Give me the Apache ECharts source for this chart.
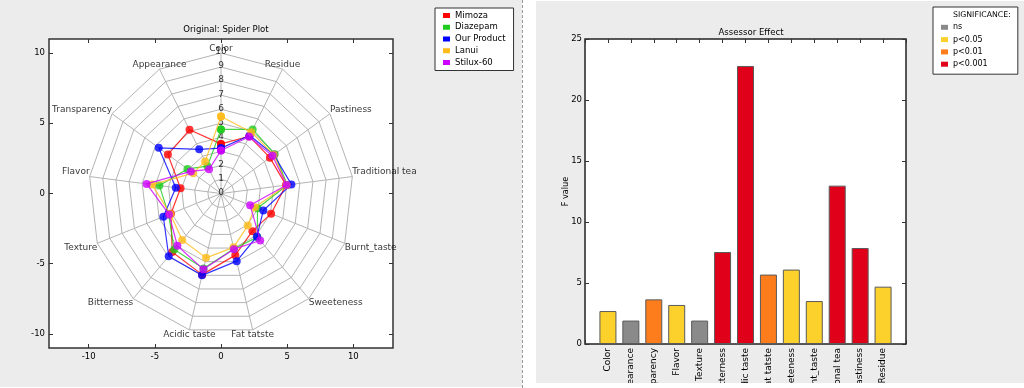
<!DOCTYPE html>
<html><head><meta charset="utf-8">
<script src="https://cdn.jsdelivr.net/npm/echarts@6/dist/echarts.min.js"></script>
<style>
html,body{margin:0;padding:0;background:#fff;width:1024px;height:388px;overflow:hidden;}
#left{position:absolute;left:0;top:0;width:522px;height:387px;background:#ececec;}
#right{position:absolute;left:536px;top:1px;width:488px;height:382px;background:#ececec;}
#sep{position:absolute;left:522px;top:0;width:0;height:388px;border-left:1px dashed #9a9a9a;}
</style></head><body>
<div id="left"></div><div id="sep"></div><div id="right"></div>
<script>
// ---------- data ----------
const categories = ['Color','Appearance','Transparency','Flavor','Texture','Bitterness','Acidic taste','Fat tatste','Sweeteness','Burnt_taste','Traditional tea','Pastiness','Residue'];
const seriesNames = ['Mimoza','Diazepam','Our Product','Lanui','Stilux-60'];
const mimoza     = [3.53, 5.12, 4.88, 3.08, 4.05, 5.56, 5.95, 4.52, 3.58, 4.05, 4.95, 4.49, 4.60];
const diazepam   = [4.56, 2.20, 3.08, 4.69, 4.23, 5.33, 5.50, 4.05, 4.15, 2.95, 5.05, 4.93, 5.15];
const ourProduct = [3.23, 3.55, 5.72, 3.44, 4.66, 5.96, 6.00, 4.96, 4.09, 3.42, 5.36, 4.85, 4.66];
const lanui      = [5.48, 2.58, 2.55, 5.25, 4.10, 4.42, 4.72, 3.95, 3.05, 2.74, 5.00, 4.85, 4.93];
const stilux60   = [3.06, 1.94, 2.77, 5.66, 4.20, 4.97, 5.56, 4.08, 4.47, 2.35, 5.00, 4.72, 4.57];
const ringValues = [0,1,2,3,4,5,6,7,8,9,10];
const xTickValues = [-10,-5,0,5,10];
const yTickValues = [-10,-5,0,5,10];
const spiderTitle = 'Original: Spider Plot';

const fValues = [2.70, 1.92, 3.66, 3.20, 1.92, 7.54, 22.79, 5.69, 6.10, 3.52, 12.98, 7.87, 4.70];
const significance = ['p<0.05','ns','p<0.01','p<0.05','ns','p<0.001','p<0.001','p<0.01','p<0.05','p<0.05','p<0.001','p<0.001','p<0.05'];
const sigLevels = ['ns','p<0.05','p<0.01','p<0.001'];
const sigHeader = 'SIGNIFICANCE:';
const barTitle = 'Assessor Effect';
const barYName = 'F value';

// ---------- styles ----------
const FONT = '"DejaVu Sans", sans-serif';
const NARROW = '"Liberation Sans Narrow", "DejaVu Sans Condensed", "DejaVu Sans", sans-serif';
const seriesColors = ['#ff0000','#1ccc1c','#0000ff','#ffbb1a','#cc00ff'];
const sigColors = {'ns':'#8a8a8a','p<0.05':'#fdd12b','p<0.01':'#fd7d1c','p<0.001':'#e0001a'};
const webColor = '#b4b4b4';
const txt = '#000';

// ---------- spider chart ----------
const N = categories.length;
const ang = i => Math.PI / 2 + i * 2 * Math.PI / N;
const toXY = (r, i) => [r * Math.cos(ang(i)), r * Math.sin(ang(i))];
const rMax = ringValues[ringValues.length - 1];
const plainLabel = {color:txt, fontSize:9, fontFamily:FONT, textBorderWidth:0, textBorderColor:'transparent', textShadowBlur:0};

const leftSeries = [];
ringValues.filter(r => r > 0).forEach(r => {
  const d = categories.map((_, i) => toXY(r, i));
  d.push(d[0]);
  leftSeries.push({type:'line', data:d, symbol:'none', silent:true, z:1, animation:false,
    lineStyle:{color:webColor, width:1}});
});
categories.forEach((_, i) => {
  leftSeries.push({type:'line', data:[[0,0], toXY(rMax, i)], symbol:'none', silent:true, z:1, animation:false,
    lineStyle:{color:webColor, width:1}});
});
leftSeries.push({type:'scatter', symbolSize:0, silent:true, z:2, animation:false, itemStyle:{color:'#000'},
  data: ringValues.map(r => ({value: toXY(r, 0), name: String(r)})),
  label:Object.assign({show:true, position:[0,0], align:'center', verticalAlign:'middle', offset:[0,-1],
    formatter: p => p.name}, plainLabel)});
leftSeries.push({type:'scatter', symbolSize:0, silent:true, z:2, animation:false, itemStyle:{color:'#000'},
  data: categories.map((c, i) => {
    const cs = Math.cos(ang(i)), sn = Math.sin(ang(i));
    return {value: toXY(rMax, i), name: c,
      label:Object.assign({show:true,
             align: Math.abs(cs) < 0.5 ? 'center' : (cs > 0 ? 'left' : 'right'),
             verticalAlign: sn >= -0.01 ? 'bottom' : 'top'}, plainLabel)};
  }),
  label:Object.assign({show:true, position:[0,0], formatter: p => p.name}, plainLabel)});
const allValues = [mimoza, diazepam, ourProduct, lanui, stilux60];
allValues.forEach((vals, k) => {
  const d = vals.map((v, i) => toXY(v, i));
  d.push(d[0]);
  leftSeries.push({name: seriesNames[k], type:'line', data:d, z:3 + k, animation:false,
    symbol:'circle', symbolSize:8,
    itemStyle:{color: seriesColors[k], opacity:0.8},
    lineStyle:{color: seriesColors[k], width:1.2, opacity:0.8}});
});

const tickStyle = {color:'#333', width:1};
const noLine = {show:false, onZero:false};
const leftChart = echarts.init(document.getElementById('left'));
leftChart.setOption({
  animation:false,
  title:{text: spiderTitle, left:221, top:20, textAlign:'center',
    textStyle:{fontSize:9.5, fontWeight:'normal', color:txt, fontFamily:NARROW}},
  legend:{data: seriesNames, orient:'vertical', left:435, top:8, icon:'rect', itemWidth:7, itemHeight:5,
    itemGap:1.75, selectedMode:false, backgroundColor:'#fff', borderColor:'#333', borderWidth:1,
    itemStyle:{borderWidth:0, opacity:1},
    padding:[2.5,8,3,8], textStyle:{fontSize:8.5, color:txt, fontFamily:FONT, lineHeight:10}},
  grid:{left:49, top:39, width:344, height:309, show:true, backgroundColor:'#fff', borderColor:'#333', borderWidth:1.5, outerBoundsMode:'none'},
  xAxis:[
    {type:'value', min:-13, max:13, position:'bottom', axisLine:noLine, splitLine:{show:false},
      axisTick:{show:true, inside:true, length:4, customValues:xTickValues, lineStyle:tickStyle},
      axisLabel:{customValues:xTickValues, fontSize:8.5, color:txt, margin:4, fontFamily:FONT}},
    {type:'value', min:-13, max:13, position:'top', axisLine:noLine, splitLine:{show:false},
      axisTick:{show:true, inside:true, length:4, customValues:xTickValues, lineStyle:tickStyle},
      axisLabel:{show:false}}
  ],
  yAxis:[
    {type:'value', min:-11, max:11, position:'left', axisLine:noLine, splitLine:{show:false},
      axisTick:{show:true, inside:true, length:4, customValues:yTickValues, lineStyle:tickStyle},
      axisLabel:{customValues:yTickValues, fontSize:8.5, color:txt, margin:4, fontFamily:FONT}},
    {type:'value', min:-11, max:11, position:'right', axisLine:noLine, splitLine:{show:false},
      axisTick:{show:true, inside:true, length:4, customValues:yTickValues, lineStyle:tickStyle},
      axisLabel:{show:false}}
  ],
  series: leftSeries
});

// ---------- bar chart ----------
const barSeries = [{name: sigHeader, type:'bar', data:[], barGap:'-100%', barWidth:17}];
sigLevels.forEach(level => {
  const d = [];
  fValues.forEach((v, i) => { if (significance[i] === level) d.push([i, v]); });
  barSeries.push({name: level, type:'bar', data:d, barWidth:17, barGap:'-100%', animation:false,
    itemStyle:{color: sigColors[level], borderColor:'#5a5a5a', borderWidth:1}});
});

const rightChart = echarts.init(document.getElementById('right'));
rightChart.setOption({
  animation:false,
  title:{text: barTitle, left:210, top:22, textAlign:'center',
    textStyle:{fontSize:9.5, fontWeight:'normal', color:txt, fontFamily:NARROW}},
  legend:{data:[{name: sigHeader, icon:'none', textStyle:{fontSize:7.8}}].concat(sigLevels),
    orient:'vertical', left:397, top:6, icon:'rect', itemWidth:7, itemHeight:5, itemGap:2.3,
    selectedMode:false, backgroundColor:'#fff', borderColor:'#333', borderWidth:1,
    itemStyle:{borderWidth:0},
    padding:[3,7,5,8], textStyle:{fontSize:8, color:txt, fontFamily:FONT, lineHeight:10}},
  grid:{left:49, top:38, width:321, height:305, show:true, backgroundColor:'#fff', borderColor:'#222', borderWidth:1.5, outerBoundsMode:'none'},
  xAxis:[
    {type:'value', min:-1, max:13, interval:1, position:'bottom', axisLine:noLine, splitLine:{show:false},
      axisTick:{show:true, inside:true, length:4, lineStyle:tickStyle},
      axisLabel:{rotate:90, fontSize:9, color:txt, margin:4, fontFamily:FONT,
        formatter: v => (Number.isInteger(v) && v >= 0 && v < categories.length) ? categories[v] : ''}},
    {type:'value', min:-1, max:13, interval:1, position:'top', axisLine:noLine, splitLine:{show:false},
      axisTick:{show:true, inside:true, length:4, lineStyle:tickStyle}, axisLabel:{show:false}}
  ],
  yAxis:[
    {type:'value', min:0, max:25, interval:5, position:'left', axisLine:noLine, splitLine:{show:false},
      axisTick:{show:true, inside:true, length:4, lineStyle:tickStyle},
      axisLabel:{fontSize:8.5, color:txt, margin:3, fontFamily:FONT},
      name: barYName, nameLocation:'middle', nameGap:15, nameMoveOverlap:false,
      nameTextStyle:{fontSize:9, color:txt, fontFamily:NARROW}},
    {type:'value', min:0, max:25, interval:5, position:'right', axisLine:noLine, splitLine:{show:false},
      axisTick:{show:true, inside:true, length:4, lineStyle:tickStyle}, axisLabel:{show:false}}
  ],
  series: barSeries
});
</script>
</body></html>
